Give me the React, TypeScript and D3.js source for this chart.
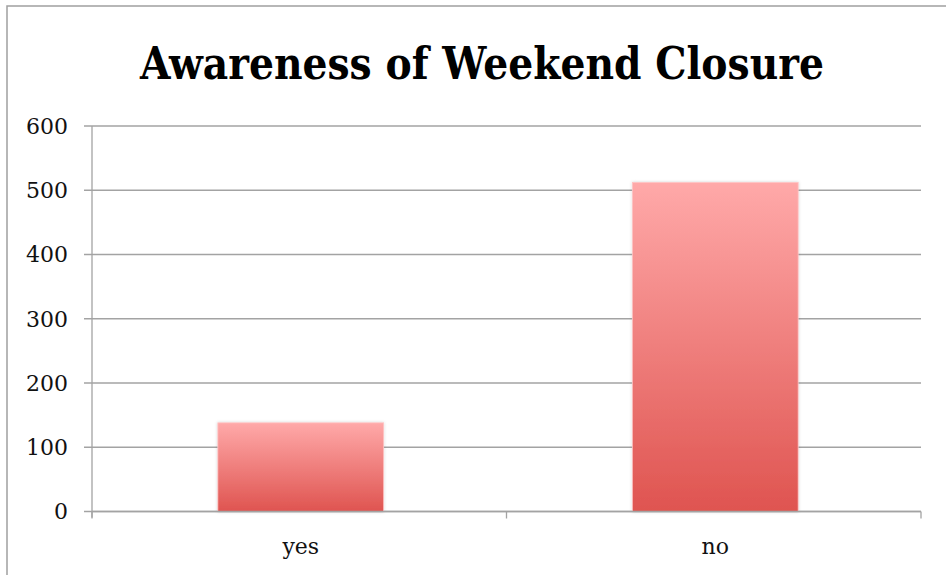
import React from "react";
import * as d3 from "d3";

const title = "Awareness of Weekend Closure";
const categories = ["yes", "no"];
const values = [138, 512];
const yTicks = [0, 100, 200, 300, 400, 500, 600];

const W = 946;
const H = 575;
const M = { left: 92, right: 921, top: 126, bottom: 511.5 };

export default function App() {
  const x = d3
    .scaleBand<string>()
    .domain(categories)
    .range([M.left, M.right])
    .paddingInner(0)
    .paddingOuter(0);
  const y = d3.scaleLinear().domain([0, 600]).range([M.bottom, M.top]);
  const bw = x.bandwidth() * 0.4;
  const serif = "'DejaVu Serif', 'Liberation Serif', serif";
  const bandEdges = [...categories.map((c) => x(c) as number), M.right];

  return (
    <svg
      width={W}
      height={H}
      style={{ position: "absolute", left: 0, top: 0, background: "#fff" }}
    >
      <defs>
        <linearGradient id="barGrad" x1="0" y1="0" x2="0" y2="1">
          <stop offset="0%" stopColor="#ffa9a9" />
          <stop offset="100%" stopColor="#df5450" />
        </linearGradient>
        <filter id="shadow" x="-10%" y="-10%" width="120%" height="120%">
          <feDropShadow dx="0" dy="0" stdDeviation="1.5" floodColor="#000" floodOpacity="0.18" />
        </filter>
      </defs>
      {/* outer border */}
      <rect x={7} y={6} width={W + 10} height={H + 10} fill="#fff" stroke="#a0a0a0" strokeWidth={1.5} />

      <text
        x={(140 + 824) / 2}
        y={79}
        textAnchor="middle"
        fontFamily={serif}
        fontWeight="bold"
        fontSize={45}
        textLength={684}
        lengthAdjust="spacingAndGlyphs"
        fill="#000"
      >
        {title}
      </text>

      {/* gridlines */}
      {yTicks.map((t) => (
        <g key={t}>
          <line x1={M.left - 8} x2={M.right} y1={y(t)} y2={y(t)} stroke="#a3a3a3" strokeWidth={1.3} />
          <text
            x={68}
            y={y(t)}
            dy="0.36em"
            textAnchor="end"
            fontFamily={serif}
            fontSize={22}
            fill="#111"
          >
            {t}
          </text>
        </g>
      ))}

      {/* y axis */}
      <line x1={M.left} x2={M.left} y1={M.top} y2={M.bottom + 6} stroke="#a3a3a3" strokeWidth={1.3} />
      {/* category ticks */}
      {bandEdges.map((e, i) => (
        <line key={i} x1={e} x2={e} y1={M.bottom} y2={M.bottom + 7} stroke="#a3a3a3" strokeWidth={1.3} />
      ))}

      {/* bars */}
      {categories.map((c, i) => {
        const cx = (x(c) as number) + x.bandwidth() / 2 + 1.5;
        return (
          <rect
            key={c}
            x={cx - bw / 2}
            y={y(values[i])}
            width={bw}
            height={y(0) - y(values[i])}
            fill="url(#barGrad)"
            stroke="#ffc4c4"
            strokeWidth={0.8}
            filter="url(#shadow)"
          />
        );
      })}

      {/* x axis line on top of bars */}
      <line x1={M.left} x2={M.right} y1={M.bottom} y2={M.bottom} stroke="#a3a3a3" strokeWidth={1.3} />

      {categories.map((c) => (
        <text
          key={c}
          x={(x(c) as number) + x.bandwidth() / 2 + 1.5}
          y={554}
          textAnchor="middle"
          fontFamily={serif}
          fontSize={22}
          fill="#111"
        >
          {c}
        </text>
      ))}
    </svg>
  );
}
